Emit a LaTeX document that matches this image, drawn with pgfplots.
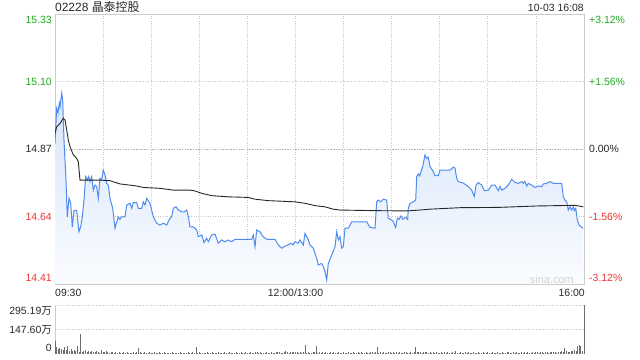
\documentclass[border=0pt]{standalone}
\usepackage{fontspec}
\setmainfont{Liberation Sans}
\newfontfamily\cjk{Noto Sans CJK SC}
\usepackage{pgfplots}
\pgfplotsset{compat=1.18}
\usepackage{pgfplotstable}

\definecolor{upgreen}{RGB}{34,170,34}
\definecolor{downred}{RGB}{238,50,50}
\definecolor{darktxt}{RGB}{40,40,40}
\definecolor{pline}{RGB}{80,140,240}
\definecolor{gridc}{RGB}{200,200,200}
\definecolor{framec}{RGB}{204,204,204}
\definecolor{volc}{RGB}{110,110,110}
\definecolor{filltop}{RGB}{214,228,250}
\definecolor{fillbot}{RGB}{250,252,255}

\pgfplotstableread{
m p
0 14.889
1.06 15.009
1.87 14.993
2.68 15.026
3.12 15.014
4.18 15.060
4.80 15.037
5.61 14.901
6.86 14.764
7.67 14.639
8.73 14.702
9.79 14.686
10.79 14.605
11.85 14.660
13.54 14.660
14.97 14.588
16.03 14.605
17.03 14.639
18.09 14.696
19.15 14.776
20.15 14.764
21.00 14.776
21.83 14.759
22.89 14.776
23.89 14.730
24.95 14.747
26.00 14.742
27.01 14.702
28.07 14.770
29.10 14.764
30.13 14.798
31.20 14.781
32.25 14.753
33.25 14.747
34.31 14.702
35.99 14.668
37.43 14.600
39.49 14.639
40.50 14.630
41.60 14.639
43.67 14.639
44.73 14.679
46.79 14.685
47.85 14.668
48.84 14.687
50.97 14.687
51.96 14.668
54.08 14.668
55.08 14.690
56.14 14.679
57.20 14.702
59.26 14.685
61.32 14.639
63.44 14.617
65.50 14.611
67.56 14.617
69.68 14.611
71.74 14.634
72.80 14.639
73.80 14.668
75.48 14.673
76.92 14.662
79.04 14.656
80.60 14.656
82.16 14.662
83.16 14.639
84.22 14.605
86.27 14.605
88.40 14.594
89.39 14.571
91.51 14.577
92.95 14.551
94.63 14.566
95.63 14.554
97.75 14.577
99.81 14.580
101.87 14.549
103.99 14.560
106.05 14.554
108.10 14.560
110.20 14.554
112.29 14.562
116.47 14.562
120.58 14.562
122.70 14.562
123.70 14.577
124.76 14.537
125.82 14.594
127.88 14.588
129.94 14.571
132.06 14.562
137.24 14.562
139.30 14.543
141.42 14.532
143.48 14.539
145.35 14.543
147.22 14.549
148.47 14.543
149.72 14.554
151.78 14.549
152.84 14.560
154.90 14.543
155.96 14.583
158.02 14.560
159.07 14.543
161.13 14.532
163.25 14.498
164.25 14.475
166.37 14.480
167.37 14.469
168.43 14.452
169.49 14.424
170.49 14.480
172.61 14.509
174.67 14.537
175.73 14.588
176.73 14.560
177.79 14.571
178.85 14.532
179.85 14.537
180.91 14.600
182.97 14.600
185.09 14.622
194.45 14.622
196.50 14.603
199.62 14.600
200.68 14.690
201.68 14.696
203.18 14.690
204.80 14.699
206.90 14.696
207.90 14.634
210.00 14.628
211.04 14.622
212.54 14.603
213.54 14.634
214.79 14.631
215.84 14.642
216.90 14.631
218.96 14.637
220.02 14.630
220.39 14.668
221.46 14.685
223.52 14.690
225.01 14.696
225.64 14.776
226.64 14.785
227.50 14.778
228.32 14.793
229.38 14.810
230.81 14.850
231.87 14.838
232.87 14.842
233.93 14.810
235.99 14.793
237.05 14.779
239.11 14.779
240.17 14.798
246.41 14.798
248.47 14.808
249.53 14.805
250.59 14.770
251.59 14.759
254.71 14.754
257.83 14.742
259.95 14.730
261.57 14.708
262.63 14.747
264.07 14.756
265.13 14.751
266.19 14.747
267.81 14.728
270.31 14.730
272.43 14.747
274.48 14.747
276.54 14.728
277.60 14.742
278.66 14.730
280.72 14.736
282.78 14.747
284.90 14.767
286.96 14.756
289.02 14.753
291.14 14.759
292.14 14.753
293.20 14.759
294.26 14.744
295.26 14.753
297.38 14.747
299.43 14.739
301.49 14.744
303.61 14.742
304.61 14.751
306.73 14.753
308.79 14.759
310.85 14.753
316.09 14.753
317.09 14.708
318.15 14.696
319.21 14.690
320.21 14.662
321.27 14.673
322.33 14.662
323.33 14.673
323.95 14.660
324.83 14.668
325.82 14.628
326.88 14.611
328.13 14.605
329.56 14.600
}\price

\pgfplotstableread{
m a
0 14.923
1.06 14.946
3.12 14.957
5.18 14.975
6.24 14.969
7.30 14.935
8.30 14.901
9.36 14.878
11.42 14.850
13.54 14.838
14.53 14.827
15.60 14.764
28.07 14.764
34.31 14.762
40.55 14.751
50.97 14.744
55.08 14.739
65.50 14.736
73.80 14.730
84.22 14.730
87.33 14.727
91.51 14.719
97.75 14.711
108.10 14.707
120.58 14.705
124.76 14.699
133.06 14.694
149.72 14.690
155.96 14.685
162.20 14.677
168.43 14.673
173.40 14.665
177.79 14.662
198.56 14.660
219.40 14.659
227.70 14.662
233.93 14.665
252.65 14.670
276.54 14.671
301.49 14.676
324.40 14.678
329.56 14.673
}\avg

\pgfplotstableread[row sep=\\,header=false]{
80\\ 42\\ 30\\ 36\\ 28\\ 24\\ 40\\ 22\\ 46\\ 20\\
30\\ 18\\ 24\\ 16\\ 48\\ 14\\ 120\\ 12\\ 18\\ 24\\
10\\ 16\\ 12\\ 20\\ 14\\ 10\\ 18\\ 12\\ 8\\ 22\\
14\\ 10\\ 16\\ 12\\ 8\\ 14\\ 10\\ 6\\ 12\\ 8\\
10\\ 6\\ 8\\ 12\\ 6\\ 10\\ 4\\ 8\\ 6\\ 10\\
8\\ 10\\ 36\\ 10\\ 8\\ 4\\ 12\\ 6\\ 8\\ 10\\
6\\ 8\\ 12\\ 6\\ 4\\ 10\\ 8\\ 6\\ 12\\ 8\\
6\\ 4\\ 8\\ 10\\ 6\\ 8\\ 4\\ 6\\ 10\\ 8\\
6\\ 8\\ 4\\ 10\\ 6\\ 8\\ 12\\ 6\\ 42\\ 8\\
10\\ 6\\ 8\\ 4\\ 6\\ 12\\ 8\\ 6\\ 10\\ 4\\
8\\ 6\\ 10\\ 8\\ 4\\ 6\\ 12\\ 8\\ 6\\ 10\\
6\\ 8\\ 4\\ 10\\ 8\\ 6\\ 14\\ 8\\ 6\\ 10\\
8\\ 6\\ 10\\ 4\\ 8\\ 12\\ 14\\ 8\\ 10\\ 6\\
8\\ 4\\ 10\\ 6\\ 8\\ 12\\ 6\\ 8\\ 10\\ 14\\
10\\ 6\\ 8\\ 12\\ 16\\ 10\\ 8\\ 12\\ 12\\ 10\\
10\\ 10\\ 8\\ 12\\ 6\\ 10\\ 54\\ 6\\ 12\\ 8\\
6\\ 10\\ 14\\ 48\\ 6\\ 10\\ 8\\ 12\\ 6\\ 10\\
8\\ 6\\ 10\\ 8\\ 12\\ 6\\ 8\\ 10\\ 6\\ 8\\
10\\ 8\\ 6\\ 12\\ 8\\ 6\\ 10\\ 8\\ 6\\ 10\\
8\\ 12\\ 6\\ 8\\ 10\\ 6\\ 8\\ 12\\ 10\\ 8\\
12\\ 42\\ 8\\ 12\\ 6\\ 10\\ 8\\ 6\\ 12\\ 10\\
8\\ 10\\ 6\\ 12\\ 8\\ 10\\ 6\\ 8\\ 10\\ 12\\
8\\ 6\\ 10\\ 8\\ 12\\ 40\\ 14\\ 10\\ 12\\ 8\\
14\\ 10\\ 12\\ 8\\ 10\\ 6\\ 12\\ 8\\ 10\\ 6\\
8\\ 10\\ 6\\ 12\\ 8\\ 10\\ 6\\ 8\\ 10\\ 8\\
20\\ 8\\ 6\\ 10\\ 8\\ 6\\ 10\\ 8\\ 12\\ 6\\
8\\ 10\\ 6\\ 8\\ 12\\ 6\\ 8\\ 10\\ 6\\ 8\\
10\\ 6\\ 8\\ 12\\ 6\\ 8\\ 10\\ 6\\ 8\\ 10\\
6\\ 8\\ 10\\ 12\\ 6\\ 8\\ 10\\ 6\\ 12\\ 8\\
6\\ 10\\ 8\\ 12\\ 6\\ 10\\ 8\\ 6\\ 10\\ 8\\
12\\ 10\\ 8\\ 14\\ 10\\ 8\\ 12\\ 10\\ 8\\ 14\\
10\\ 12\\ 12\\ 8\\ 10\\ 14\\ 18\\ 10\\ 36\\ 16\\
14\\ 12\\ 16\\ 20\\ 24\\ 18\\ 48\\ 54\\ 48\\ 18\\
295\\
}\vol

\begin{document}
\begin{tikzpicture}
\useasboundingbox (0,0) rectangle (640bp,360bp);

\begin{axis}[
  at={(55bp,76bp)}, anchor=south west, scale only axis,
  width=529bp, height=270bp,
  xmin=0, xmax=330, ymin=14.41, ymax=15.33,
  axis line style={framec, line width=0.8bp},
  xtick={30,60,...,300}, ytick={15.10,14.64},
  extra y ticks={14.87},
  extra y tick style={grid style={gray!60, dash pattern=on 1.5bp off 1.2bp, line width=0.7bp}},
  xticklabels={}, yticklabels={}, extra y tick labels={},
  tick style={draw=none},
  grid=major,
  grid style={gridc, dotted, line width=0.8bp},
]
\addplot[draw=none, top color=filltop, bottom color=fillbot] table[x=m,y=p] {\price} \closedcycle;
\addplot[pline, line width=1bp] table[x=m,y=p] {\price};
\addplot[black!85, line width=0.9bp] table[x=m,y=a] {\avg};
\end{axis}

\begin{axis}[
  at={(55bp,6bp)}, anchor=south west, scale only axis,
  width=529bp, height=49bp,
  xmin=0, xmax=330, ymin=0, ymax=295.19,
  axis line style={draw=none},
  xtick=\empty, ytick={147.60,295.19}, yticklabels={},
  tick style={draw=none},
  ymajorgrids, grid style={gridc, dotted, line width=0.8bp},
  clip=false,
]
\draw[framec, line width=0.8bp] (rel axis cs:0,0) -- (rel axis cs:0,1);
\addplot[ycomb, volc, line width=0.9bp] table[x expr=\coordindex, y index=0] {\vol};
\end{axis}

% title line
\node[anchor=west, inner sep=0pt, text=darktxt, font=\fontsize{12}{14}\selectfont] at (55bp,353bp) {02228 {\cjk 晶泰控股}};
\node[anchor=east, inner sep=0pt, text=darktxt, font=\fontsize{10.5}{12}\selectfont] at (584bp,352bp) {10-03 16:08};

% left price labels
\begin{scope}[every node/.style={anchor=east, inner sep=0pt, font=\fontsize{10.5}{12}\selectfont}]
\node[text=upgreen] at (52bp,340bp) {15.33};
\node[text=upgreen] at (52bp,278bp) {15.10};
\node[text=darktxt] at (52bp,211bp) {14.87};
\node[text=downred] at (52bp,143bp) {14.64};
\node[text=downred] at (52bp,82bp) {14.41};
\node[text=darktxt] at (52bp,49bp) {295.19{\cjk 万}};
\node[text=darktxt] at (52bp,30bp) {147.60{\cjk 万}};
\node[text=darktxt] at (52bp,12bp) {0};
\end{scope}

% right percent labels
\begin{scope}[every node/.style={anchor=west, inner sep=0pt, font=\fontsize{10.5}{12}\selectfont}]
\node[text=upgreen] at (589bp,340bp) {+3.12\%};
\node[text=upgreen] at (589bp,278bp) {+1.56\%};
\node[text=darktxt] at (589bp,211bp) {0.00\%};
\node[text=downred] at (589bp,143bp) {-1.56\%};
\node[text=downred] at (589bp,82bp) {-3.12\%};
\end{scope}

% time labels
\begin{scope}[every node/.style={inner sep=0pt, text=darktxt, font=\fontsize{10.5}{12}\selectfont}]
\node[anchor=west] at (55bp,67bp) {09:30};
\node[anchor=center] at (295.5bp,67bp) {12:00/13:00};
\node[anchor=east] at (585bp,67bp) {16:00};
\end{scope}

\node[anchor=east, inner sep=0pt, text=gray!35, font=\fontsize{11}{12}\selectfont] at (574bp,80bp) {sina.com};
\end{tikzpicture}
\end{document}
